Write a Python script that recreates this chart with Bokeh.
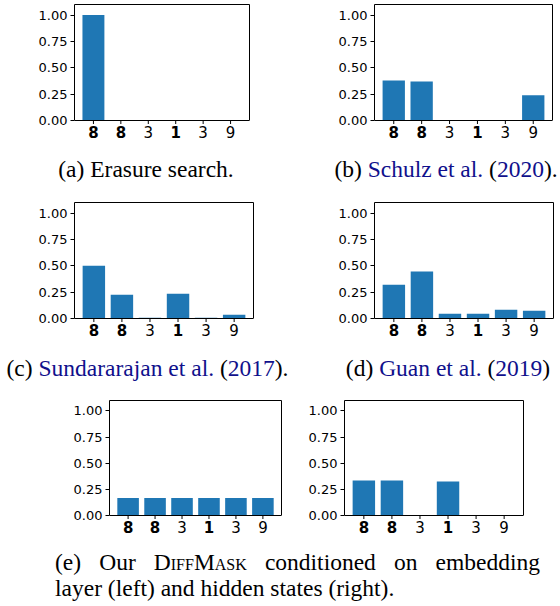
from bokeh.plotting import figure
from bokeh.models import (Range1d, FixedTicker, ColumnDataSource, Div, PrintfTickFormatter,
                          LinearAxis, Span)
from bokeh.layouts import column, row
from bokeh.embed import file_html
from bokeh.resources import INLINE

# ---- data ----
tokens = ["8", "8", "3", "1", "3", "9"]
token_bold = [True, True, False, True, False, False]
y_ticks = [0.0, 0.25, 0.5, 0.75, 1.0]
y_max = 1.1

erasure = [1.0, 0.0, 0.0, 0.0, 0.0, 0.0]
schulz = [0.38, 0.37, 0.0, 0.0, 0.0, 0.24]
sundararajan = [0.50, 0.225, 0.008, 0.235, 0.007, 0.035]
guan = [0.32, 0.445, 0.045, 0.045, 0.083, 0.073]
diffmask_embed = [0.167, 0.167, 0.167, 0.167, 0.167, 0.167]
diffmask_hidden = [0.335, 0.335, 0.004, 0.325, 0.004, 0.004]

BAR = "#1f77b4"
BLUE = "#10108c"
TICK_FONT = "DejaVu Sans"
CAP_FONT = "font-family:'Liberation Serif','Times New Roman',serif;font-size:23.5px;"
LABEL_PX = 22      # room under the x axis for the token labels
TICK_PX = 3.5      # x tick length
MID_PX = 11.0      # token label vertical centre below the x axis


def spine_axis(loc):
    ax = LinearAxis(ticker=FixedTicker(ticks=[]), major_tick_out=0, major_tick_in=0,
                    minor_tick_out=0, minor_tick_in=0, major_label_standoff=0,
                    major_label_text_font_size="0px", axis_line_color="black",
                    axis_line_width=1)
    if loc == "right":
        ax.bounds = (0, y_max)
    return ax


def panel(values, width, left, frame_w, top=4, frame_h=116):
    right = width - left - frame_w
    pos = list(range(len(tokens)))
    ppu = frame_h / y_max
    p = figure(width=width, height=top + frame_h + LABEL_PX,
               x_range=Range1d(-0.69, len(tokens) - 1 + 0.69),
               y_range=Range1d(-LABEL_PX / ppu, y_max), x_axis_location=None,
               output_backend="svg", toolbar_location=None, title=None,
               min_border_left=left, min_border_right=right,
               min_border_top=top, min_border_bottom=0)
    p.grid.visible = False
    p.outline_line_color = None
    p.background_fill_color = "white"
    p.border_fill_color = "white"
    p.vbar(x=pos, top=values, width=0.8, fill_color=BAR, line_color=None)

    ya = p.yaxis[0]
    ya.bounds = (0, y_max)
    ya.ticker = FixedTicker(ticks=y_ticks)
    ya.formatter = PrintfTickFormatter(format="%.2f")
    ya.minor_tick_line_color = None
    ya.major_tick_in = 0
    ya.major_tick_out = 4
    ya.major_label_standoff = 3
    ya.major_label_text_font = TICK_FONT
    ya.major_label_text_font_size = "13px"
    ya.major_label_text_color = "black"
    ya.axis_line_color = "black"
    ya.major_tick_line_color = "black"

    p.add_layout(spine_axis("above"), "above")
    p.add_layout(spine_axis("right"), "right")
    p.add_layout(Span(location=0, dimension="width", line_color="black", line_width=1))

    src = ColumnDataSource(dict(x=pos, text=tokens,
                                y=[-MID_PX / ppu] * len(pos),
                                y0=[0.0] * len(pos), y1=[-TICK_PX / ppu] * len(pos),
                                style=["bold" if b else "normal" for b in token_bold]))
    p.segment(x0="x", y0="y0", x1="x", y1="y1", source=src, line_color="black", line_width=1)
    p.text(x="x", y="y", text="text", source=src,
           text_font={"value": TICK_FONT}, text_font_size={"value": "15px"},
           text_font_style="style", text_align="center",
           text_baseline="middle", text_color="black")
    return p


def cap(html, width, height, pad_top, pad_left=0, pad_right=0, align="center"):
    style = ("box-sizing:content-box;" + CAP_FONT +
             "line-height:26px;color:black;white-space:nowrap;margin:0;"
             f"padding:{pad_top}px {pad_right}px 0 {pad_left}px;text-align:{align};"
             f"width:{width - pad_left - pad_right}px;")
    return Div(text=f'<div style="{style}">{html}</div>', width=width, height=height,
               margin=0)


def b(t):
    return f'<span style="color:{BLUE}">{t}</span>'


pa = panel(erasure, 300, 74, 175, top=4)
pb = panel(schulz, 260, 74, 178, top=4)
pc = panel(sundararajan, 300, 74, 179, top=2)
pd = panel(guan, 260, 74, 179, top=2)
pe1 = panel(diffmask_embed, 300, 109, 172, top=2, frame_h=115)
pe2 = panel(diffmask_hidden, 260, 44, 179, top=2, frame_h=115)

ca = cap("(a) Erasure search.", 300, 58, 14, pad_right=8)
cb = cap(f"(b) {b('Schulz et al.')} ({b('2020')}).", 260, 58, 14, pad_left=32)
cc = cap(f"(c) {b('Sundararajan et al.')} ({b('2017')}).", 300, 58, 15, pad_right=5)
cd = cap(f"(d) {b('Guan et al.')} ({b('2019')})", 260, 58, 15, pad_left=36)

e_words = ["(e)", "Our",
           'D<span style="font-variant:small-caps">iff</span>M'
           '<span style="font-variant:small-caps">ask</span>',
           "conditioned", "on", "embedding"]
e_line2 = "layer (left) and hidden states (right)."
e_style = ("box-sizing:content-box;" + CAP_FONT +
           "line-height:26px;color:black;margin:0;padding:12px 20px 0 55px;width:485px;")
e_html = (f'<div style="{e_style}">'
          '<div style="display:flex;justify-content:space-between;white-space:nowrap;">'
          + "".join(f"<span>{w}</span>" for w in e_words) +
          '</div><div style="text-align:left;white-space:nowrap;">'
          + e_line2 + '</div></div>')
ce = Div(text=e_html, width=560, height=64, margin=0)

layout = column(
    row(pa, pb, spacing=0),
    row(ca, cb, spacing=0),
    row(pc, pd, spacing=0),
    row(cc, cd, spacing=0),
    row(pe1, pe2, spacing=0),
    ce,
    spacing=0,
)

open("out.html", "w").write(file_html(layout, INLINE))
